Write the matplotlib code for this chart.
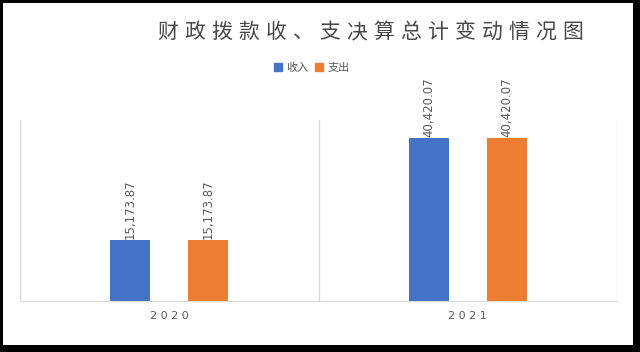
import matplotlib.pyplot as plt
from matplotlib.patches import Rectangle, Patch
import numpy as np

plt.rcParams['font.family'] = ['Noto Sans CJK SC', 'DejaVu Sans']

title = '财政拨款收、支决算总计变动情况图'
years = ['2020', '2021']
income = [15173.87, 40420.07]
spend = [15173.87, 40420.07]
series_names = ['收入', '支出']
colors = ['#4472C4', '#ED7D31']

fig = plt.figure(figsize=(6.4, 3.52), dpi=100, facecolor='black')
# white card with black frame around it
fig.patches.append(Rectangle((3 / 640, 7 / 352), 630 / 640, 342 / 352,
                             transform=fig.transFigure, facecolor='white',
                             edgecolor='none', zorder=-5))

ax = fig.add_axes([20 / 640, 51 / 352, 597 / 640, 181 / 352])
ax.set_facecolor('none')

x = np.arange(len(years))
w = 0.134
off = 0.13
for vals, c, dx in [(income, colors[0], -off), (spend, colors[1], off)]:
    bars = ax.bar(x + dx, vals, width=w, color=c, zorder=2)
    for b, v in zip(bars, vals):
        ax.text(b.get_x() + b.get_width() / 2, v + 300, f'{v:,.2f}',
                rotation=90, ha='center', va='bottom', fontsize=8.5,
                color='#595959', family='DejaVu Sans')

ax.set_xlim(-0.5, len(years) - 0.5)
ax.set_ylim(0, 45000)
for xv in np.arange(-0.5, len(years), 1.0):
    ax.axvline(xv, color='#d9d9d9', lw=1, zorder=1)
for s in ['top', 'left', 'right']:
    ax.spines[s].set_visible(False)
ax.spines['bottom'].set_color('#d9d9d9')
ax.set_yticks([])
ax.set_xticks(x)
ax.set_xticklabels([' '.join(y) for y in years], family='DejaVu Sans',
                   fontsize=8, color='#595959')
ax.tick_params(axis='x', length=0, pad=7)

# spaced-out title
adv = 27
x0 = 158 + 10
for i, ch in enumerate(title):
    fig.text((x0 + i * adv) / 640, 1 - 32 / 352, ch, ha='center', va='center',
             fontsize=15, color='#484848')

handles = [Patch(color=c) for c in colors]
fig.legend(handles, series_names, loc='center', ncol=2,
           bbox_to_anchor=(312 / 640, 1 - 68 / 352), frameon=False,
           fontsize=8, handlelength=0.7, handleheight=0.7, handletextpad=0.4,
           columnspacing=0.6, labelcolor='#595959')

fig.savefig('out.png', dpi=100, facecolor=fig.get_facecolor())
